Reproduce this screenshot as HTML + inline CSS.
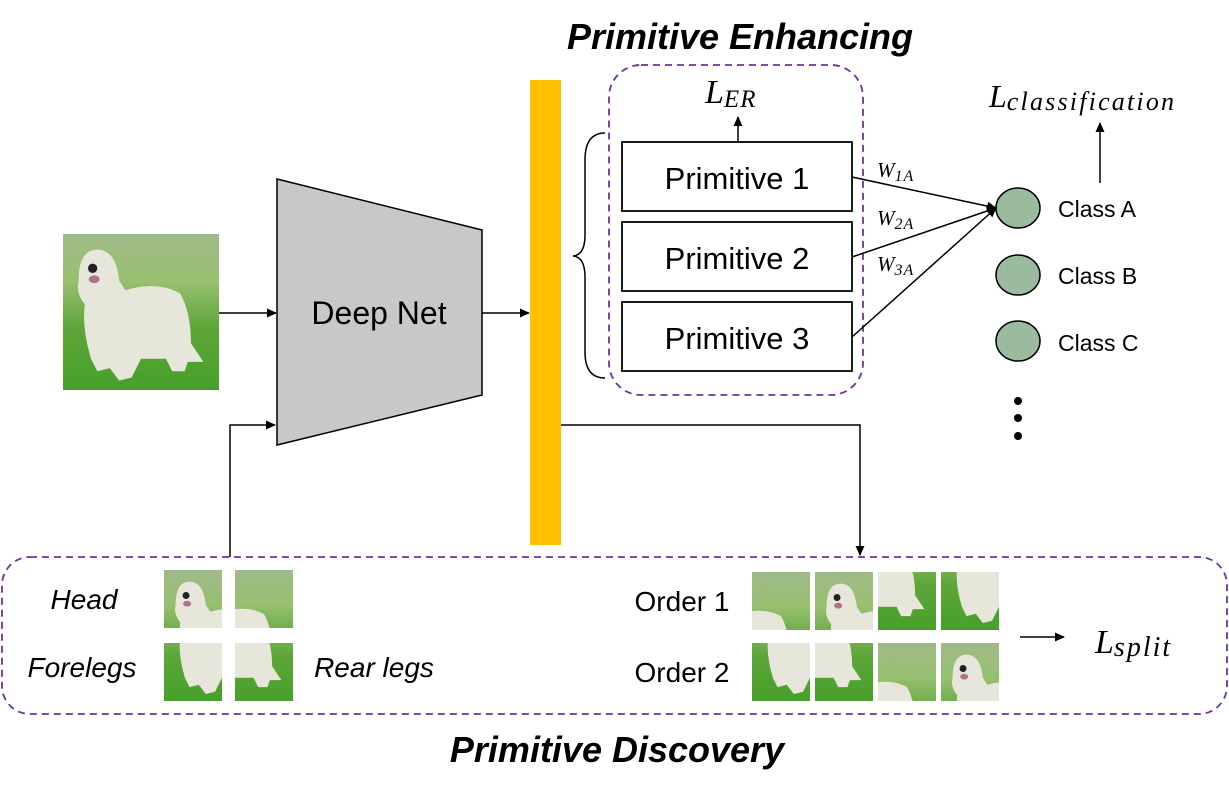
<!DOCTYPE html>
<html><head><meta charset="utf-8"><style>
html,body{margin:0;padding:0;background:#fff;}
svg text{font-family:"Liberation Sans",sans-serif;}
.m{font-family:"Liberation Serif",serif;font-style:italic;}
</style></head><body>
<svg width="1229" height="794" viewBox="0 0 1229 794" xmlns="http://www.w3.org/2000/svg">
<defs>
<marker id="ar" markerWidth="10" markerHeight="10" refX="9" refY="5" orient="auto" markerUnits="userSpaceOnUse"><path d="M0,0.5 L10,5 L0,9.5z" fill="#000"/></marker>
<linearGradient id="bg" x1="0" y1="0" x2="0" y2="1"><stop offset="0" stop-color="#9fba8a"/><stop offset="0.3" stop-color="#98c070"/><stop offset="0.6" stop-color="#5ea63a"/><stop offset="1" stop-color="#47a02a"/></linearGradient>
<g id="dog">
<rect x="0" y="0" width="100" height="100" fill="url(#bg)"/>
<path d="M10,30 Q10,10 22,10 Q34,10 36,30 L40,36 Q60,30 75,38 Q82,50 82,70 L90,82 L80,82 L78,88 L70,88 L66,80 L50,80 L44,92 L36,94 L30,86 L22,88 L18,80 Q12,60 14,45 Q8,38 10,30z" fill="#e6e7da"/>
<circle cx="19" cy="22" r="3" fill="#222"/>
<ellipse cx="20" cy="29" rx="3.5" ry="2.5" fill="#b0708f"/>
</g>
</defs>

<text x="740" y="49" text-anchor="middle" font-size="36" font-weight="bold" font-style="italic">Primitive Enhancing</text>
<text x="617" y="762" text-anchor="middle" font-size="36" font-weight="bold" font-style="italic">Primitive Discovery</text>

<svg x="63" y="234" width="156" height="156" viewBox="0 0 100 100" preserveAspectRatio="none"><use href="#dog"/></svg>
<line x1="219" y1="313" x2="276" y2="313" stroke="#000" stroke-width="1.5" marker-end="url(#ar)"/>

<polygon points="277,179 482,230 482,395 277,445" fill="#c8c8c8" stroke="#000" stroke-width="1.5"/>
<text x="379" y="324" text-anchor="middle" font-size="32">Deep Net</text>
<line x1="482" y1="313" x2="529" y2="313" stroke="#000" stroke-width="1.5" marker-end="url(#ar)"/>

<rect x="530" y="80" width="31" height="465" fill="#ffc000"/>

<polyline points="230,557 230,425 275,425" fill="none" stroke="#000" stroke-width="1.5" marker-end="url(#ar)"/>
<polyline points="561,425 860,425 860,555" fill="none" stroke="#000" stroke-width="1.5" marker-end="url(#ar)"/>

<rect x="609" y="65" width="254" height="330" rx="32" fill="none" stroke="#7030a0" stroke-width="1.8" stroke-dasharray="7,5"/>
<path d="M605,133 Q585,133 585,160 L585,235 Q585,255 573,256 Q585,257 585,277 L585,352 Q585,378 605,378" fill="none" stroke="#000" stroke-width="1.5"/>

<rect x="622" y="142" width="230" height="69" fill="#fff" stroke="#000" stroke-width="1.8"/>
<rect x="622" y="222" width="230" height="69" fill="#fff" stroke="#000" stroke-width="1.8"/>
<rect x="622" y="302" width="230" height="69" fill="#fff" stroke="#000" stroke-width="1.8"/>
<text x="737" y="189" text-anchor="middle" font-size="31">Primitive 1</text>
<text x="737" y="269" text-anchor="middle" font-size="31">Primitive 2</text>
<text x="737" y="349" text-anchor="middle" font-size="31">Primitive 3</text>

<line x1="738" y1="142" x2="738" y2="117" stroke="#000" stroke-width="1.5" marker-end="url(#ar)"/>
<text class="m" x="705" y="103" font-size="34">L<tspan font-size="25" dy="4" letter-spacing="1">ER</tspan></text>

<line x1="852" y1="177" x2="996" y2="208" stroke="#000" stroke-width="1.5" marker-end="url(#ar)"/>
<line x1="852" y1="257" x2="996" y2="208" stroke="#000" stroke-width="1.5" marker-end="url(#ar)"/>
<line x1="852" y1="337" x2="996" y2="208" stroke="#000" stroke-width="1.5" marker-end="url(#ar)"/>
<text class="m" x="877" y="177" font-size="21">W<tspan font-size="16" dy="4" letter-spacing="1">1A</tspan></text>
<text class="m" x="877" y="225" font-size="21">W<tspan font-size="16" dy="4" letter-spacing="1">2A</tspan></text>
<text class="m" x="877" y="271" font-size="21">W<tspan font-size="16" dy="4" letter-spacing="1">3A</tspan></text>

<ellipse cx="1018" cy="208" rx="22" ry="20" fill="#9bbb9f" stroke="#000" stroke-width="1.5"/>
<ellipse cx="1018" cy="275" rx="22" ry="20" fill="#9bbb9f" stroke="#000" stroke-width="1.5"/>
<ellipse cx="1018" cy="341" rx="22" ry="20" fill="#9bbb9f" stroke="#000" stroke-width="1.5"/>
<text x="1058" y="217" font-size="23">Class A</text>
<text x="1058" y="284" font-size="23">Class B</text>
<text x="1058" y="351" font-size="23">Class C</text>
<circle cx="1018" cy="401" r="4" fill="#000"/>
<circle cx="1018" cy="418" r="4" fill="#000"/>
<circle cx="1018" cy="436" r="4" fill="#000"/>

<line x1="1100" y1="183" x2="1100" y2="123" stroke="#000" stroke-width="1.5" marker-end="url(#ar)"/>
<text class="m" x="989" y="107" font-size="32">L<tspan font-size="26" dy="3" letter-spacing="2.2">classification</tspan></text>

<rect x="2" y="557" width="1225" height="157" rx="28" fill="none" stroke="#7030a0" stroke-width="1.8" stroke-dasharray="7,5"/>
<text x="84" y="609" text-anchor="middle" font-size="28" font-style="italic">Head</text>
<text x="82" y="677" text-anchor="middle" font-size="28" font-style="italic">Forelegs</text>
<text x="374" y="677" text-anchor="middle" font-size="28" font-style="italic">Rear legs</text>

<svg x="164" y="570" width="58" height="58" viewBox="0 0 50 50"><use href="#dog"/></svg>
<svg x="235" y="570" width="58" height="58" viewBox="50 0 50 50"><use href="#dog"/></svg>
<svg x="164" y="643" width="58" height="58" viewBox="0 50 50 50"><use href="#dog"/></svg>
<svg x="235" y="643" width="58" height="58" viewBox="50 50 50 50"><use href="#dog"/></svg>

<text x="682" y="611" text-anchor="middle" font-size="28">Order 1</text>
<text x="682" y="682" text-anchor="middle" font-size="28">Order 2</text>
<svg x="752" y="572" width="58" height="58" viewBox="50 0 50 50"><use href="#dog"/></svg>
<svg x="815" y="572" width="58" height="58" viewBox="0 0 50 50"><use href="#dog"/></svg>
<svg x="878" y="572" width="58" height="58" viewBox="50 50 50 50"><use href="#dog"/></svg>
<svg x="941" y="572" width="58" height="58" viewBox="0 50 50 50"><use href="#dog"/></svg>
<svg x="752" y="643" width="58" height="58" viewBox="0 50 50 50"><use href="#dog"/></svg>
<svg x="815" y="643" width="58" height="58" viewBox="50 50 50 50"><use href="#dog"/></svg>
<svg x="878" y="643" width="58" height="58" viewBox="50 0 50 50"><use href="#dog"/></svg>
<svg x="941" y="643" width="58" height="58" viewBox="0 0 50 50"><use href="#dog"/></svg>

<line x1="1020" y1="637" x2="1064" y2="637" stroke="#000" stroke-width="1.5" marker-end="url(#ar)"/>
<text class="m" x="1095" y="653" font-size="34">L<tspan font-size="28" dy="3" letter-spacing="2">split</tspan></text>
</svg>
</body></html>
